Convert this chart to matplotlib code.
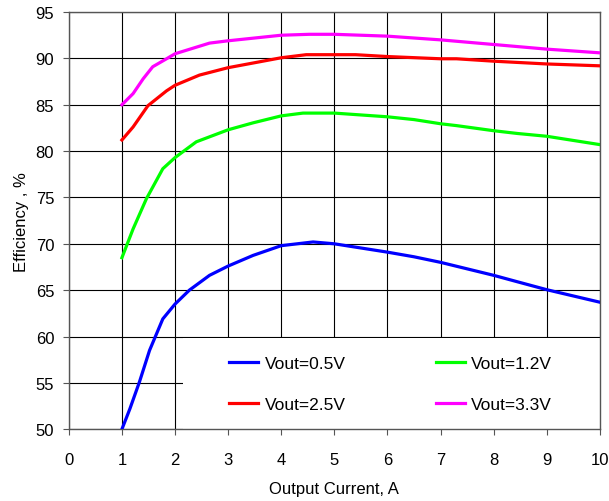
import matplotlib
matplotlib.use('Agg')
import matplotlib.pyplot as plt
from matplotlib.patches import Rectangle

plt.rcParams['font.family'] = ['Liberation Sans', 'DejaVu Sans']

# values
x05 = [1.0, 1.15, 1.33, 1.52, 1.77, 2.0, 2.27, 2.65, 3.0, 3.47, 4.0, 4.6, 5.0, 6.0, 6.5, 7.0, 7.5, 8.0, 8.45, 9.0, 10.0]
y05 = [50.0, 52.2, 55.1, 58.5, 61.9, 63.5, 65.0, 66.6, 67.6, 68.75, 69.8, 70.2, 70.0, 69.1, 68.6, 68.0, 67.3, 66.6, 65.9, 65.05, 63.7]

x12 = [1.0, 1.21, 1.46, 1.77, 2.0, 2.4, 3.0, 3.47, 4.0, 4.41, 5.0, 6.0, 6.5, 7.0, 7.3, 8.0, 8.45, 9.0, 10.0]
y12 = [68.5, 71.6, 74.85, 78.1, 79.3, 81.0, 82.3, 83.05, 83.8, 84.1, 84.1, 83.7, 83.4, 82.95, 82.75, 82.2, 81.9, 81.6, 80.7]

x25 = [1.0, 1.21, 1.49, 1.84, 2.0, 2.46, 3.0, 4.0, 4.47, 5.0, 5.4, 6.0, 7.0, 7.3, 8.0, 9.0, 10.0]
y25 = [81.2, 82.6, 84.9, 86.5, 87.1, 88.2, 89.0, 90.07, 90.4, 90.4, 90.4, 90.2, 89.96, 89.96, 89.7, 89.4, 89.2]

x33 = [1.0, 1.21, 1.4, 1.58, 1.84, 2.0, 2.65, 3.0, 4.0, 4.53, 5.0, 6.0, 7.0, 8.0, 9.0, 10.0]
y33 = [85.0, 86.2, 87.8, 89.1, 89.96, 90.5, 91.65, 91.9, 92.5, 92.6, 92.6, 92.4, 92.0, 91.5, 91.0, 90.6]

labels = ['Vout=0.5V', 'Vout=1.2V', 'Vout=2.5V', 'Vout=3.3V']
colors = ['#0000ff', '#00ff00', '#ff0000', '#ff00ff']

fig = plt.figure(figsize=(6.09, 5.02), dpi=100)
ax = fig.add_axes([0.113, 0.143, 0.872, 0.831])

ax.set_xlim(0, 10)
ax.set_ylim(50, 95)
ax.set_xticks(range(0, 11))
ax.set_yticks(range(50, 96, 5))
ax.set_axisbelow(True)
ax.grid(True, color='black', linewidth=0.8)

# white box behind the legend hides the grid
ax.add_patch(Rectangle((2.15, 50), 7.85, 9.85, facecolor='white', edgecolor='none', zorder=1))

h1, = ax.plot(x05, y05, color=colors[0], linewidth=2.3, zorder=3)
h2, = ax.plot(x12, y12, color=colors[1], linewidth=2.3, zorder=3)
h3, = ax.plot(x25, y25, color=colors[2], linewidth=2.3, zorder=3)
h4, = ax.plot(x33, y33, color=colors[3], linewidth=2.3, zorder=3)

ax.legend([h1, h3, h2, h4], [labels[0], labels[2], labels[1], labels[3]],
          ncol=2, loc='center', bbox_to_anchor=(0.606, 0.108), frameon=False,
          fontsize=12.5, handlelength=1.67, handletextpad=0.35, labelspacing=1.49,
          columnspacing=5.2)

for s in ax.spines.values():
    s.set_color('#555555')
    s.set_linewidth(1.0)
ax.tick_params(direction='out', length=4.5, width=0.8, color='#555555', labelsize=12)
ax.tick_params(axis='x', pad=12)
ax.tick_params(axis='y', pad=6)

ax.set_xlabel('Output Current, A', fontsize=12, labelpad=10)
ax.set_ylabel('Efficiency , %', fontsize=12, labelpad=4.5)

fig.savefig('out.png', dpi=100)
